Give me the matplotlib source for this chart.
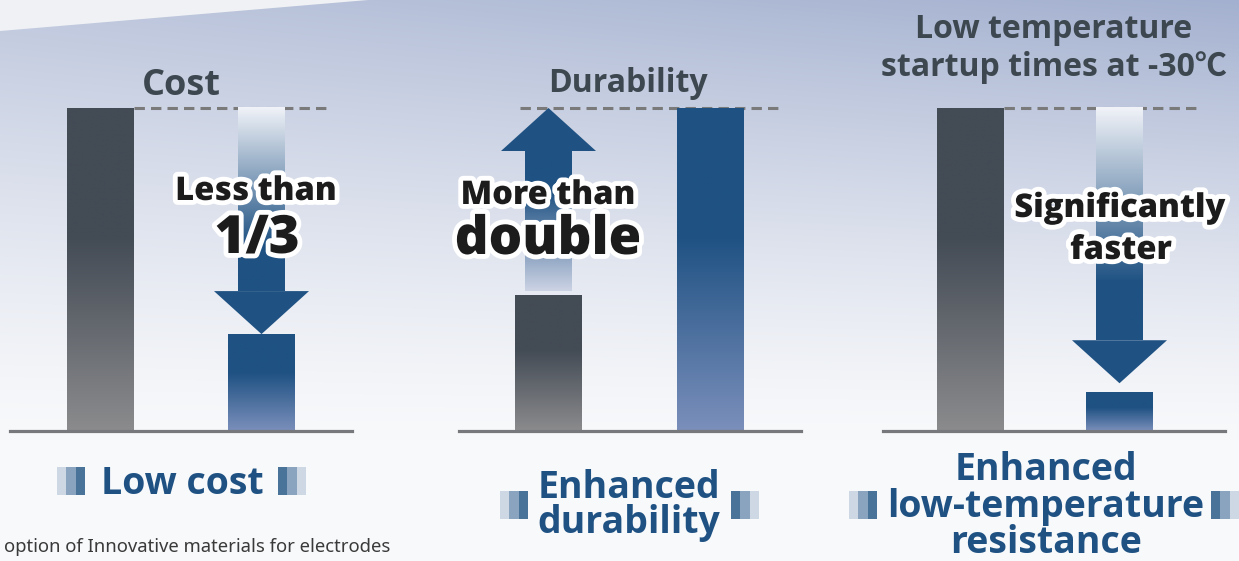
import numpy as np
import matplotlib
matplotlib.use("Agg")
import matplotlib.pyplot as plt
import matplotlib.patheffects as pe
from matplotlib.patches import Polygon, Rectangle
from matplotlib.colors import to_rgb

W, H = 1239, 561
plt.rcParams['font.family'] = ['Open Sans', 'Noto Sans CJK JP', 'DejaVu Sans']

# data (relative to the conventional level)
titles = ["Cost", "Durability", "Low temperature\nstartup times at -30℃"]
conventional = [1.0, 0.42, 1.0]
improved = [0.30, 1.0, 0.12]
callouts = [("Less than", "1/3"), ("More than", "double"), ("Significantly", "faster")]
results = [["Low cost"], ["Enhanced", "durability"], ["Enhanced", "low-temperature", "resistance"]]
footnote = "option of Innovative materials for electrodes"

# layout in pixels
base_y, top_y = 431, 108
panel_box = [(10, 352), (459, 801), (883, 1225)]
bar_centers = [(100.5, 261.5), (548.5, 710.5), (970.5, 1119.5)]
dash_px = [(134, 330), (520, 780), (1004, 1200)]
bar_px = 67
title_pos = [(181, [95], 26), (628, [92], 23), (1054, [38, 76], 23)]
callout_pos = [[(256, 200, 23.5), (257, 253, 38)],
               [(548, 204, 23.5), (548, 254, 38)],
               [(1120, 217, 23.5), (1121, 259, 23.5)]]
result_pos = [(182, [494], 27), (629, [498, 533], 27), (1046, [480, 517, 553], 27)]
icon_pos = [[(57, 467, False), (278, 467, True)],
            [(500, 491, False), (731, 491, True)],
            [(849, 491, False), (1211, 491, True)]]

gray_top, gray_bot = '#434b55', '#8b8b8d'
blue_top, blue_bot = '#1f5283', '#7b8fbb'
arrow_blue = '#1f5283'
title_col = '#3c474f'
label_col = '#1f5283'


def fx(x):
    return x / W


def fy(y):
    return 1 - y / H


def gradient(c_top, c_bot, start=0.0, stop=1.0, n=256):
    t = np.linspace(0, 1, n)
    t = np.clip((t - start) / (stop - start), 0, 1)
    a, b = np.array(to_rgb(c_top)), np.array(to_rgb(c_bot))
    return (a[None, :] * (1 - t[:, None]) + b[None, :] * t[:, None])[:, None, :]


def fill_gradient(ax, patch, x0, x1, y0, y1, c_top, c_bot, start=0.0, stop=1.0, z=2):
    img = ax.imshow(gradient(c_top, c_bot, start, stop), extent=(x0, x1, y0, y1),
                    origin='upper', aspect='auto', interpolation='bilinear', zorder=z)
    img.set_clip_path(patch)


def draw_arrow(ax, xc, y_from, y_to, stem_w, head_w, head_len):
    d = np.sign(y_to - y_from)
    y_neck = y_to - d * head_len
    lo, hi = min(y_from, y_neck), max(y_from, y_neck)
    stem = Rectangle((xc - stem_w / 2, lo), stem_w, hi - lo + 0.004, fc='none', ec='none')
    ax.add_patch(stem)
    if d < 0:
        fill_gradient(ax, stem, xc - stem_w / 2, xc + stem_w / 2, lo, hi + 0.004,
                      '#f2f4f9', arrow_blue, 0.0, 0.75, z=3)
    else:
        fill_gradient(ax, stem, xc - stem_w / 2, xc + stem_w / 2, lo, hi + 0.004,
                      arrow_blue, '#ccd3e5', 0.3, 1.0, z=3)
    ax.add_patch(Polygon([(xc - head_w / 2, y_neck), (xc + head_w / 2, y_neck), (xc, y_to)],
                         closed=True, fc=arrow_blue, ec='none', zorder=4))


fig = plt.figure(figsize=(W / 100, H / 100), dpi=100)

# background
bg = fig.add_axes([0, 0, 1, 1], zorder=-10)
yy, xx = np.mgrid[0:H, 0:W]
t = np.clip(1 - yy / 440, 0, 1) ** 1.3 * (0.68 + 0.32 * xx / W)
light, dark = np.array(to_rgb('#f8f9fb')), np.array(to_rgb('#a3b0cf'))
bg.imshow(light * (1 - t[..., None]) + dark * t[..., None], extent=(0, W, H, 0), aspect='auto')
bg.add_patch(Polygon([(0, 0), (368, 0), (0, 31)], closed=True, fc='#eff1f4', ec='none'))
bg.set_xlim(0, W)
bg.set_ylim(H, 0)
bg.axis('off')

stroke = [pe.withStroke(linewidth=7, foreground='white')]

for i in range(3):
    L, R = panel_box[i]
    c0, c1 = bar_centers[i]
    unit = c1 - c0
    ax = fig.add_axes([fx(L), fy(base_y), (R - L) / W, (base_y - top_y) / H])
    w = bar_px / unit
    bars = ax.bar([0, 1], [conventional[i], improved[i]], width=w, color='none',
                  edgecolor='none', zorder=2)
    for b, (ct, cb) in zip(bars, [(gray_top, gray_bot), (blue_top, blue_bot)]):
        fill_gradient(ax, b, b.get_x(), b.get_x() + b.get_width(), 0, b.get_height(),
                      ct, cb, start=0.4)

    top = max(conventional[i], improved[i])
    da, db = dash_px[i]
    ax.plot([(da - c0) / unit, (db - c0) / unit], [top, top], color='#7a7a7a', lw=2.2,
            ls=(0, (3.4, 2.0)), zorder=1, clip_on=False)
    ax.axhline(0, color='#77787b', lw=2.3, zorder=5, clip_on=False)

    stem_w, head_w, head_len = 47 / unit, 95 / unit, 43 / (base_y - top_y)
    gap = 9 / (base_y - top_y)
    if improved[i] < conventional[i]:
        tip = improved[i] if i == 0 else improved[i] + gap
        draw_arrow(ax, 1, conventional[i], tip, stem_w, head_w, head_len)
    else:
        draw_arrow(ax, 0, conventional[i] + gap / 2, improved[i], stem_w, head_w, head_len)

    ax.set_xlim((L - c0) / unit, (R - c0) / unit)
    ax.set_ylim(0, 1)
    ax.axis('off')

    # title above the panel
    tx, tys, tsz = title_pos[i]
    for line, ty in zip(titles[i].split('\n'), tys):
        fig.text(fx(tx), fy(ty), line, ha='center', va='baseline', fontsize=tsz,
                 fontweight='bold', color=title_col)

    # callout text
    for txt, (cx, cy, csz) in zip(callouts[i], callout_pos[i]):
        fig.text(fx(cx), fy(cy), txt, ha='center', va='baseline', fontsize=csz,
                 fontweight='heavy', color='#1c1c1c', path_effects=stroke, zorder=10)

    # result label
    rx, rys, rsz = result_pos[i]
    for line, ry in zip(results[i], rys):
        fig.text(fx(rx), fy(ry), line, ha='center', va='baseline', fontsize=rsz,
                 fontweight='bold', color=label_col)

    # little striped icons
    for ix, iy, flip in icon_pos[i]:
        cols = ['#cdd8e4', '#8aa4bf', '#4a7399']
        if flip:
            cols = cols[::-1]
        for k, c in enumerate(cols):
            fig.add_artist(Rectangle((fx(ix + k * 9.3), fy(iy + 28)), 9.3 / W, 28 / H,
                                     transform=fig.transFigure, fc=c, ec='none'))

fig.text(fx(390), fy(552), footnote, ha='right', va='baseline', fontsize=13.3,
         color='#3a3a3a', family=['Noto Sans', 'DejaVu Sans'])

fig.savefig('out.png', dpi=100)
